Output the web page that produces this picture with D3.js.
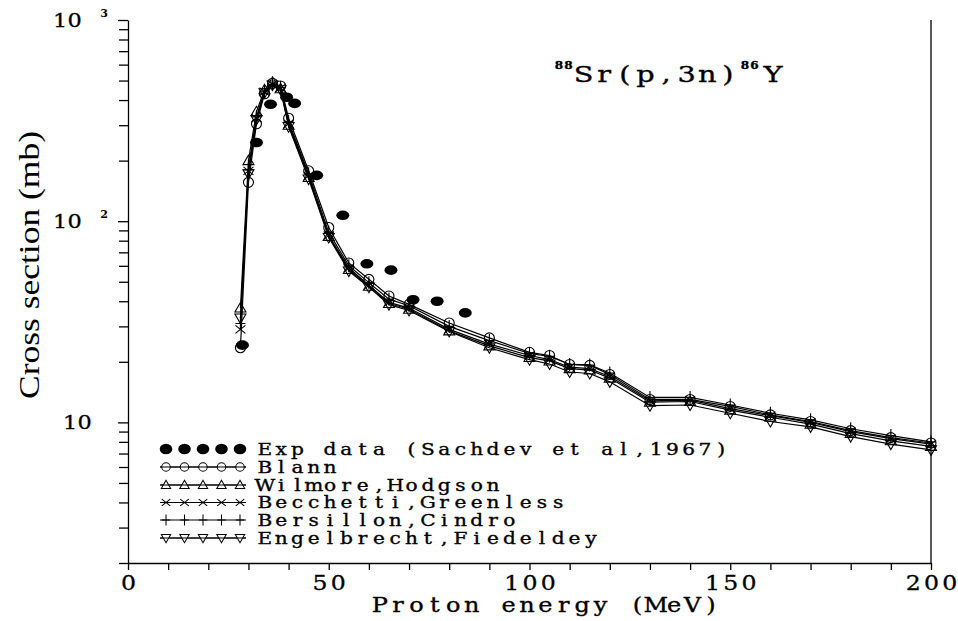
<!DOCTYPE html>
<html>
<head>
<meta charset="utf-8">
<script src="https://cdn.jsdelivr.net/npm/d3@7"></script>
<style>
  body { margin: 0; background: #fff; }
  svg { display: block; }
</style>
</head>
<body>
<svg id="chart" width="958" height="621"></svg>
<script>
// Excitation function of 88Sr(p,3n)86Y: measured points and five optical-model calculations
const modelEnergy = [28, 30, 32, 34, 36, 38, 40, 45, 50, 55, 60, 65, 70, 80, 90, 100, 105, 110, 115, 120, 130, 140, 150, 160, 170, 180, 190, 200];

const blann       = [23.5, 156, 305, 430, 485, 470, 325, 178, 93, 62, 51.4, 42.5, 38.6, 31.2, 26.3, 22.3, 21.5, 19.4, 19.2, 17.3, 13.0, 13.0, 12.0, 10.9, 10.1, 9.1, 8.4, 7.9];
const wilmore     = [37, 200, 350, 450, 490, 455, 300, 165, 84, 57.5, 47.5, 39, 36.5, 28.5, 24.0, 21.0, 20.2, 18.5, 18.2, 16.6, 12.6, 12.7, 11.5, 10.6, 9.8, 8.8, 8.1, 7.6];
const becchetti   = [29, 178, 325, 440, 480, 460, 305, 168, 85, 58.5, 48, 39.5, 37, 29, 24.5, 21.5, 20.5, 18.8, 18.5, 16.9, 12.8, 12.9, 11.7, 10.8, 10.0, 9.0, 8.3, 7.8];
const bersillon   = [31, 180, 330, 440, 478, 462, 312, 172, 88, 60, 49.5, 41, 38, 30, 25.5, 22.0, 21.3, 19.4, 19.3, 17.6, 13.3, 13.3, 12.2, 11.1, 10.3, 9.3, 8.6, 8.0];
const engelbrecht = [33, 172, 320, 435, 475, 450, 295, 162, 83, 56.5, 47, 38.5, 36, 28.3, 23.5, 20.5, 19.5, 17.8, 17.5, 15.9, 12.1, 12.2, 11.1, 10.1, 9.5, 8.5, 7.8, 7.3];

const expEnergy = [28.5, 32, 35.5, 39.5, 41.5, 47, 53.5, 59.5, 65.5, 71, 77, 84];
const expValue  = [24.2, 246, 381, 413, 385, 169, 107, 61.4, 57.1, 40.7, 40.0, 35.0];

const seriesNames = ["Blann", "Wilmore,Hodgson", "Becchetti,Greenless", "Bersillon,Cindro", "Engelbrecht,Fiedeldey"];
const seriesMarkers = ["circle", "triangleUp", "cross", "plus", "triangleDown"];
const seriesValues = [blann, wilmore, becchetti, bersillon, engelbrecht];
const expLabel = "Exp data (Sachdev et al,1967)";

const xTickValues = d3.range(0, 201, 10);
const xLabelValues = [0, 50, 100, 150, 200];
const yDecades = [10, 100, 1000];
const yExponents = { 100: "2", 1000: "3" };

// ---------------------------------------------------------------------------
const svg = d3.select("#chart");
const serif = "'DejaVu Serif', serif";

const x = d3.scaleLinear().domain([0, 200]).range([128, 931]);
const y = d3.scaleLog().domain([2, 1000]).range([563, 20]);

// fixed-pitch, horizontally widened text: each character centred in its own cell
function cellCentres(n, first, pitch, sx = 1) {
  return d3.range(n).map(i => ((first + i * pitch) / sx).toFixed(2)).join(" ");
}
function monoText(sel, str, left, pitch, sx = 1.22) {
  return sel.attr("x", cellCentres(str.length, left + 0.42 * pitch, pitch, sx))
    .attr("transform", `scale(${sx},1)`)
    .attr("text-anchor", "middle")
    .attr("stroke", "#000").attr("stroke-width", 0.35)
    .text(str);
}

// marker shapes, drawn around (0,0)
function markerPath(type) {
  switch (type) {
    case "circle": {
      const p = d3.path(); p.arc(0, 0, 5, 0, 2 * Math.PI); return p.toString();
    }
    case "triangleUp":   return "M0,-5.5L5.5,4L-5.5,4Z";
    case "triangleDown": return "M0,5.5L5.5,-4L-5.5,-4Z";
    case "cross":        return "M-5,-4L5,4M-5,4L5,-4";
    case "plus":         return "M-5,0L5,0M0,-6.5L0,6.5";
  }
}

// axes
const yTickValues = [];
[1, 10, 100].forEach(dec => d3.range(1, 10).forEach(m => { if (m * dec >= 2) yTickValues.push(m * dec); }));
yTickValues.push(1000);

const xPitch = 18.3, sxTick = 1.18;
const gx = svg.append("g")
  .attr("transform", "translate(0,563)")
  .call(d3.axisBottom(x).tickValues(xTickValues).tickSize(7).tickSizeOuter(0).tickPadding(6)
        .tickFormat(d => xLabelValues.includes(d) ? String(d) : ""));
gx.selectAll("text")
  .attr("font-family", serif).attr("font-size", 20).attr("fill", "#000")
  .attr("stroke", "#000").attr("stroke-width", 0.3)
  .attr("text-anchor", "middle")
  .attr("transform", `scale(${sxTick},1)`)
  .attr("x", d => {
    const n = xLabelValues.includes(d) ? String(d).length : 1;
    return cellCentres(n, -(n - 1) / 2 * xPitch, xPitch, sxTick);
  });

const gy = svg.append("g")
  .attr("transform", "translate(128,0)")
  .call(d3.axisLeft(y).tickValues(yTickValues).tickSize(9).tickSizeOuter(0)
        .tickFormat(d => yDecades.includes(d) ? "10" : ""));
gy.selectAll(".tick line").attr("x2", d => yDecades.includes(d) ? -10 : -9);
gy.selectAll(".tick text")
  .attr("font-family", serif).attr("font-size", 19).attr("fill", "#000")
  .attr("stroke", "#000").attr("stroke-width", 0.3)
  .attr("text-anchor", "middle")
  .attr("transform", `scale(${sxTick},1)`)
  .attr("x", d => yExponents[d] ? cellCentres(2, -68, 14.5, sxTick) : cellCentres(2, -58, 14.5, sxTick));
gy.selectAll(".tick")
  .filter(d => yExponents[d])
  .append("text")
  .attr("x", -24).attr("y", -4)
  .attr("text-anchor", "middle")
  .attr("font-family", serif).attr("font-size", 11).attr("font-weight", "bold")
  .attr("fill", "#000")
  .text(d => yExponents[d]);

svg.selectAll(".domain, .tick line").attr("stroke", "#000").attr("stroke-width", 1.3);

// right frame edge
svg.append("line")
  .attr("x1", x(200)).attr("x2", x(200))
  .attr("y1", y(1000)).attr("y2", y(2))
  .attr("stroke", "#000").attr("stroke-width", 1.3);

// axis titles
monoText(svg.append("text")
  .attr("y", 612)
  .attr("font-family", serif).attr("font-size", 20), "Proton energy (MeV)", 372, 18.4, 1.2);

svg.append("text")
  .attr("transform", "translate(39,265) rotate(-90)")
  .attr("text-anchor", "middle")
  .attr("font-family", "'Liberation Serif', serif").attr("font-size", 30)
  .attr("textLength", 268).attr("lengthAdjust", "spacingAndGlyphs")
  .text("Cross section (mb)");

// reaction label
const title = svg.append("g").attr("font-family", serif).attr("fill", "#000");
monoText(title.append("text").attr("y", 69).attr("font-size", 11).attr("font-weight", "bold"), "88", 555, 9.5, 1.1);
monoText(title.append("text").attr("y", 82).attr("font-size", 23), "Sr(p,3n)", 575, 20.6, 1.25);
monoText(title.append("text").attr("y", 69).attr("font-size", 11).attr("font-weight", "bold"), "86", 741, 9.5, 1.1);
monoText(title.append("text").attr("y", 82).attr("font-size", 23), "Y", 762, 26, 1.25);

// model curves
const line = d3.line().x(d => x(d[0])).y(d => y(d[1]));
seriesValues.forEach((vals, i) => {
  const pts = modelEnergy.map((e, j) => [e, vals[j]]);
  svg.append("path")
    .attr("d", line(pts))
    .attr("fill", "none").attr("stroke", "#000").attr("stroke-width", 1.2);
  svg.append("g").selectAll("path")
    .data(pts).join("path")
    .attr("transform", d => `translate(${x(d[0])},${y(d[1])})`)
    .attr("d", markerPath(seriesMarkers[i]))
    .attr("fill", "none").attr("stroke", "#000").attr("stroke-width", 1.1);
});

// measured points
svg.append("g").selectAll("ellipse")
  .data(expEnergy.map((e, j) => [e, expValue[j]]))
  .join("ellipse")
  .attr("cx", d => x(d[0])).attr("cy", d => y(d[1]))
  .attr("rx", 6.5).attr("ry", 4.8)
  .attr("fill", "#000");

// legend
const legendRowY = [449, 467, 485, 502.5, 520, 538];
const legendMarkX = [166, 184.5, 203, 221.5, 240];
const legendPitch = 16.3;
const legend = svg.append("g").attr("font-family", serif).attr("font-size", 16.5);

legend.selectAll("ellipse.exp")
  .data(legendMarkX).join("ellipse")
  .attr("cx", d => d).attr("cy", legendRowY[0])
  .attr("rx", 6.3).attr("ry", 5.2).attr("fill", "#000");
monoText(legend.append("text").attr("y", legendRowY[0] + 6), expLabel, 258, legendPitch);

seriesNames.forEach((name, i) => {
  const ry = legendRowY[i + 1];
  legend.append("line")
    .attr("x1", 160).attr("x2", 246).attr("y1", ry).attr("y2", ry)
    .attr("stroke", "#000").attr("stroke-width", 1.1);
  legend.append("g").selectAll("path")
    .data(legendMarkX).join("path")
    .attr("transform", d => `translate(${d},${ry}) scale(0.85)`)
    .attr("d", markerPath(seriesMarkers[i]))
    .attr("fill", "#fff").attr("stroke", "#000").attr("stroke-width", 1.2);
  if (seriesMarkers[i] === "circle" || seriesMarkers[i].startsWith("triangle")) {
    // keep the connecting stroke visible through open markers
    legend.append("line")
      .attr("x1", 160).attr("x2", 246).attr("y1", ry).attr("y2", ry)
      .attr("stroke", "#000").attr("stroke-width", 1.1);
  }
  monoText(legend.append("text").attr("y", ry + 6), name, 258, legendPitch);
});
</script>
</body>
</html>
